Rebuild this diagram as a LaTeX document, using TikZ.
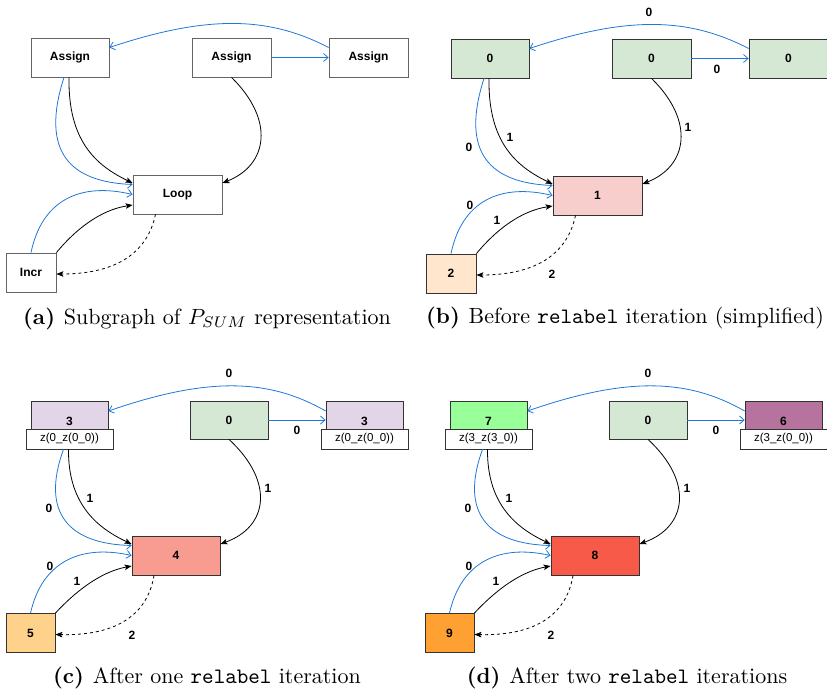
\documentclass[tikz,border=0pt]{standalone}
\usepackage{fontspec}
\usepackage{graphicx}
\usetikzlibrary{arrows.meta,calc}
\newfontfamily\diofont{Liberation Sans}

\definecolor{linkblue}{RGB}{30,120,215}
\definecolor{frameA}{RGB}{100,100,100}
\definecolor{frameB}{RGB}{51,51,51}
\definecolor{zero}{HTML}{D5E8D4}
\definecolor{one}{HTML}{F8CECC}
\definecolor{two}{HTML}{FFE6CC}
\definecolor{three}{HTML}{E1D5E7}
\definecolor{four}{HTML}{F89B91}
\definecolor{five}{HTML}{FFD28C}
\definecolor{six}{HTML}{B5739D}
\definecolor{seven}{HTML}{99FF99}
\definecolor{eight}{HTML}{F75A48}
\definecolor{nine}{HTML}{FFA032}

\tikzset{
  opbox/.style={draw=frameA, fill=white, line width=0.8pt, inner sep=0pt,
    minimum height=39pt, font=\diofont\bfseries\fontsize{12}{14}\selectfont},
  valbox/.style={draw=frameB, line width=0.8pt, inner sep=0pt,
    minimum height=39pt, font=\diofont\bfseries\fontsize{12}{14}\selectfont},
  namebox/.style={draw=frameB, fill=white, line width=0.8pt, inner sep=0pt,
    minimum width=87pt, minimum height=20pt, font=\diofont\fontsize{11.5}{13}\selectfont},
  blueline/.style={draw=linkblue, line width=0.8pt,
    -{Straight Barb[length=4.5pt,width=8pt,line width=0.8pt]}},
  blackline/.style={draw=black, line width=0.8pt,
    -{Stealth[length=7pt,width=5.5pt,inset=1.5pt]}},
  backline/.style={blackline, dash pattern=on 3pt off 3pt},
  elabel/.style={inner sep=0pt, font=\diofont\bfseries\fontsize{12}{14}\selectfont},
  caption/.style={anchor=base, inner sep=0pt, font=\fontsize{10}{12}\selectfont}
}

% Connectors of one panel; #1 is the node the two lower links leave from
\newcommand\drawlinks[1]{%
  \draw[blueline] ([yshift=10pt]A3.west) .. controls (268,16) and (207,15) .. ([yshift=10pt]A1.east);
  \draw[blueline] (A2.east) -- (A2.east -| A3.west);
  \draw[blueline] ([xshift=-6pt]#1.south) .. controls (40,152) and (70,182) .. ([yshift=10pt]L.west);
  \draw[blackline] ([xshift=-1pt]#1.south) .. controls (68,140) and (95,165) .. ([yshift=11.5pt]L.west);
  \draw[blackline] (A2.south) .. controls (275,120) and (268,165) .. ([yshift=11.5pt]L.east);
  \draw[blueline] (I.north) .. controls (42,200) and (80,182) .. (L.west);
  \draw[blackline] (I.north east) .. controls (75,230) and (100,210) .. ([yshift=-10.5pt]L.west);
  \draw[backline] ([xshift=-22pt]L.south) .. controls (148,250) and (120,274) .. ([yshift=-1.5pt]I.east);
}

% Edge weights
\newcommand\drawweights{%
  \node[elabel] (w1) at (229,11) {0};
  \node[elabel] (w2) at (297,68) {0};
  \node[elabel] (w3) at (268,126) {1};
  \node[elabel] (w4) at (90,136) {1};
  \node[elabel] (w5) at (49,146) {0};
  \node[elabel] (w6) at (50,204) {0};
  \node[elabel] (w7) at (77,219) {1};
  \node[elabel] (w8) at (132,273) {2};
}

\begin{document}
\begin{tikzpicture}[x=1pt,y=-1pt]
\useasboundingbox (0,0) rectangle (827,690);

% (a) operation names
\begin{scope}[name prefix=a-]
  \node[opbox, minimum width=78pt] (A1) at (70,57.5) {Assign};
  \node[opbox, minimum width=79pt] (A2) at (231.5,57.5) {Assign};
  \node[opbox, minimum width=79pt] (A3) at (368.5,57.5) {Assign};
  \node[opbox, minimum width=89pt] (L) at (177.5,194.5) {Loop};
  \node[opbox, minimum width=50pt] (I) at (31,272.5) {Incr};
  \drawlinks{A1}
\end{scope}

% (b) initial labels
\begin{scope}[shift={(420,1)}, name prefix=b-]
  \node[valbox, fill=zero, minimum width=78pt] (A1) at (70,57.5) {0};
  \node[valbox, fill=zero, minimum width=79pt] (A2) at (231.5,57.5) {0};
  \node[valbox, fill=zero, minimum width=79pt] (A3) at (368.5,57.5) {0};
  \node[valbox, fill=one, minimum width=89pt] (L) at (177.5,194.5) {1};
  \node[valbox, fill=two, minimum width=50pt] (I) at (31,272.5) {2};
  \drawlinks{A1}
  \drawweights
\end{scope}

% (c) after one iteration
\begin{scope}[shift={(0,362)}, name prefix=c-]
  \node[valbox, fill=three, minimum width=77pt, minimum height=40pt] (A1) at (69.5,59) {3};
  \node[namebox] (A1b) at (69.5,77) {z(0\_z(0\_0))};
  \node[valbox, fill=zero, minimum width=78pt, minimum height=38pt] (A2) at (229,58) {0};
  \node[valbox, fill=three, minimum width=77pt, minimum height=40pt] (A3) at (364.5,59) {3};
  \node[namebox] (A3b) at (364.5,77) {z(0\_z(0\_0))};
  \node[valbox, fill=four, minimum width=88pt] (L) at (176,193.5) {4};
  \node[valbox, fill=five, minimum width=49pt] (I) at (30.5,271) {5};
  \drawlinks{A1b}
  \drawweights
\end{scope}

% (d) after two iterations
\begin{scope}[shift={(419,362)}, name prefix=d-]
  \node[valbox, fill=seven, minimum width=77pt, minimum height=40pt] (A1) at (69.5,59) {7};
  \node[namebox] (A1b) at (69.5,77) {z(3\_z(3\_0))};
  \node[valbox, fill=zero, minimum width=78pt, minimum height=38pt] (A2) at (229,58) {0};
  \node[valbox, fill=six, minimum width=77pt, minimum height=40pt] (A3) at (364.5,59) {6};
  \node[namebox] (A3b) at (364.5,77) {z(3\_z(0\_0))};
  \node[valbox, fill=eight, minimum width=88pt] (L) at (176,193.5) {8};
  \node[valbox, fill=nine, minimum width=49pt] (I) at (30.5,271) {9};
  \drawlinks{A1b}
  \drawweights
\end{scope}

% sub-captions, set at 10pt and enlarged
\node[caption] (cap-a) at (207,324) {\scalebox{2.2}{\textbf{(a)}\hspace{0.4em}Subgraph of $P_{SUM}$ representation}};
\node[caption] (cap-b) at (625,323) {\scalebox{2.2}{\textbf{(b)}\hspace{0.4em}Before \texttt{relabel} iteration (simplified)}};
\node[caption] (cap-c) at (207,683) {\scalebox{2.2}{\textbf{(c)}\hspace{0.4em}After one \texttt{relabel} iteration}};
\node[caption] (cap-d) at (627,683) {\scalebox{2.2}{\textbf{(d)}\hspace{0.4em}After two \texttt{relabel} iterations}};
\end{tikzpicture}
\end{document}
